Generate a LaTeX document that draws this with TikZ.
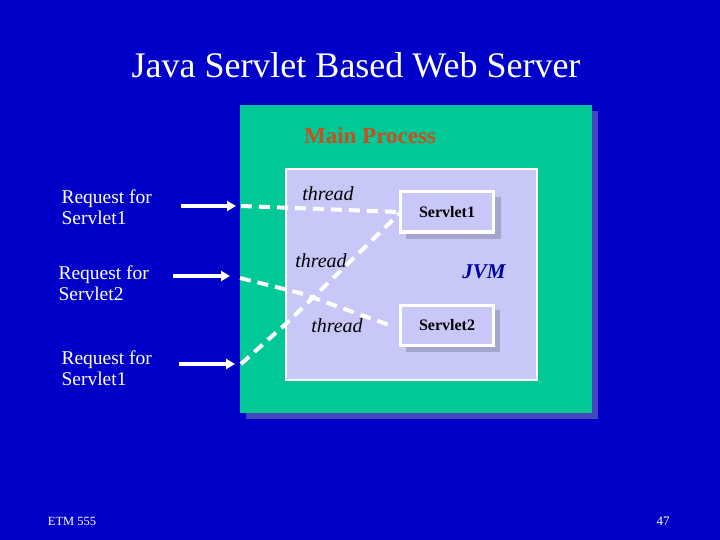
\documentclass[tikz,border=0pt]{standalone}
\usepackage{fontspec}
\usetikzlibrary{arrows.meta}
\setmainfont{Liberation Serif}
\begin{document}
\begin{tikzpicture}[x=1pt,y=-1pt,
 lbl/.style={text=white,font=\fontsize{19.5}{21}\selectfont,align=left,anchor=west},
 thr/.style={font=\itshape\fontsize{20}{22}\selectfont,text=black},
 sv/.style={draw=white,fill=jvm,line width=3pt,minimum width=93pt,minimum height=40pt,font=\bfseries\fontsize{16}{18}\selectfont},
 arr/.style={white,line width=3.5pt,-{Triangle[length=9pt,width=10pt]}},
 dsh/.style={white,line width=4pt,dash pattern=on 11pt off 7pt}]
\definecolor{bg}{RGB}{0,0,200}
\definecolor{grn}{RGB}{0,200,150}
\definecolor{jvm}{RGB}{200,200,248}
\definecolor{shd}{RGB}{70,70,190}
\definecolor{svs}{RGB}{165,165,205}
\fill[bg] (0,0) rectangle (720,540);
\useasboundingbox (0,0) rectangle (720,540);
\node[text=white,font=\fontsize{36}{40}\selectfont] (title) at (356,65) {Java Servlet Based Web Server};
\fill[shd] (246,111) rectangle (598,419);
\fill[grn] (240,105) rectangle (592,413);
\node[text={rgb,255:red,200;green,80;blue,30},font=\bfseries\fontsize{23}{25}\selectfont] (mp) at (370,136) {Main Process};
\draw[white,line width=2.5pt,fill=jvm] (286,169) rectangle (537,380);
\fill[svs] (406,197) rectangle (501,239);
\fill[svs] (406,310) rectangle (500,352);
\node[sv] (s1) at (447,212) {Servlet1};
\node[sv] (s2) at (447,325) {Servlet2};
\node[font=\bfseries\itshape\fontsize{21}{23}\selectfont,text={rgb,255:red,0;green,0;blue,160}] (jv) at (484,272) {JVM};
\node[thr] (t1) at (328,194) {thread};
\node[thr] (t2) at (321,261) {thread};
\node[thr] (t3) at (337,326) {thread};
\node[lbl] (r1) at (58,207) {Request for\\Servlet1};
\node[lbl] (r2) at (55,283) {Request for\\Servlet2};
\node[lbl] (r3) at (58,368) {Request for\\Servlet1};
\coordinate (a1) at (181,206); \coordinate (b1) at (236,206);
\coordinate (a2) at (173,276); \coordinate (b2) at (230,276);
\coordinate (a3) at (179,364); \coordinate (b3) at (235,364);
\draw[arr] (a1) -- (b1);
\draw[arr] (a2) -- (b2);
\draw[arr] (a3) -- (b3);
\draw[dsh] (241,206) -- (s1.west);
\draw[dsh] (240,278) -- (300,293) -- (392,326);
\draw[dsh] (241,364) -- (290,320) -- (400,213);
\node[text=white,font=\fontsize{12.5}{14}\selectfont] (f1) at (72,521) {ETM 555};
\node[text=white,font=\fontsize{13}{14}\selectfont] (f2) at (663,521) {47};
\end{tikzpicture}
\end{document}
